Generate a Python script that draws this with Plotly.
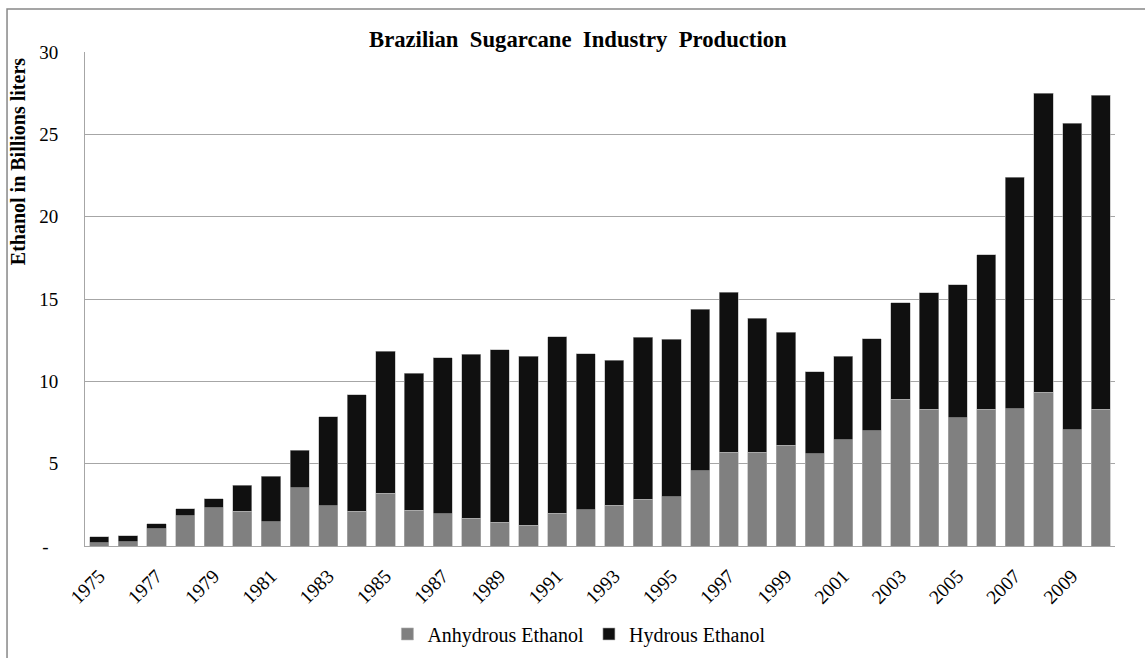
import plotly.graph_objects as go

years = list(range(1975, 2011))
anhydrous = [0.21, 0.27, 1.06, 1.85, 2.31, 2.11, 1.46, 3.55, 2.45, 2.11,
             3.20, 2.17, 1.95, 1.70, 1.44, 1.26, 1.99, 2.19, 2.47, 2.84,
             2.98, 4.58, 5.68, 5.68, 6.12, 5.61, 6.45, 7.01, 8.90, 8.29,
             7.79, 8.29, 8.33, 9.34, 7.05, 8.29]
total = [0.57, 0.61, 1.36, 2.25, 2.86, 3.69, 4.24, 5.82, 7.86, 9.20,
         11.82, 10.50, 11.43, 11.63, 11.92, 11.53, 12.71, 11.67, 11.27, 12.67,
         12.57, 14.37, 15.40, 13.84, 12.97, 10.58, 11.52, 12.60, 14.78, 15.39,
         15.87, 17.69, 22.38, 27.49, 25.66, 27.36]
hydrous = [round(t - a, 2) for t, a in zip(total, anhydrous)]

y_ticks = [0, 5, 10, 15, 20, 25, 30]
y_ticktext = ["-\u00a0\u00a0", "5", "10", "15", "20", "25", "30"]
x_ticks = list(range(1975, 2011, 2))

FONT = "Liberation Serif, Times New Roman, serif"

fig = go.Figure()
fig.add_bar(x=years, y=anhydrous, name="Anhydrous Ethanol",
            marker=dict(color="#808080", line=dict(color="#b0b0b0", width=0.6)))
fig.add_bar(x=years, y=hydrous, name="Hydrous Ethanol",
            marker=dict(color="#101010", line=dict(color="#b0b0b0", width=0.6)))

fig.update_layout(
    width=1145, height=658,
    margin=dict(l=85, r=30, t=52, b=112, autoexpand=False),
    barmode="stack", bargap=0.33,
    plot_bgcolor="white", paper_bgcolor="white",
    font=dict(family=FONT, size=18, color="#000000"),
    showlegend=True,
    legend=dict(orientation="h", x=0.48, xanchor="center", y=-0.178, yanchor="middle",
                font=dict(size=20), itemwidth=30, traceorder="normal"),
    xaxis=dict(range=[1974.5, 2010.5], tickmode="array", tickvals=x_ticks,
               ticktext=[str(v) for v in x_ticks], tickangle=-45,
               showgrid=False, showline=True, linecolor="#a6a6a6", linewidth=1,
               ticks="", ticklabelstandoff=10, tickfont=dict(size=19.5)),
    yaxis=dict(range=[0, 30], tickmode="array", tickvals=y_ticks, ticktext=y_ticktext,
               showgrid=True, gridcolor="#a6a6a6", gridwidth=1,
               showline=True, linecolor="#a6a6a6", linewidth=1,
               zeroline=False, ticks="", ticklabelstandoff=22, tickfont=dict(size=19)),
    shapes=[dict(type="rect", xref="paper", yref="paper",
                 x0=-0.0757, x1=1.2, y0=-0.4, y1=1.087,
                 line=dict(color="#888888", width=1.5), fillcolor="rgba(0,0,0,0)")],
    annotations=[
        dict(text="<b>Brazilian\u00a0 Sugarcane\u00a0 Industry\u00a0 Production</b>", xref="paper", yref="paper",
             x=0.4786, y=1.0243, xanchor="center", yanchor="middle", showarrow=False,
             font=dict(size=22.7, family=FONT)),
        dict(text="<b>Ethanol in Billions liters</b>", xref="paper", yref="paper",
             x=-0.065, y=0.777, xanchor="center", yanchor="middle", textangle=-90,
             showarrow=False, font=dict(size=20, family=FONT)),
    ],
)

fig.write_html("out.html")
